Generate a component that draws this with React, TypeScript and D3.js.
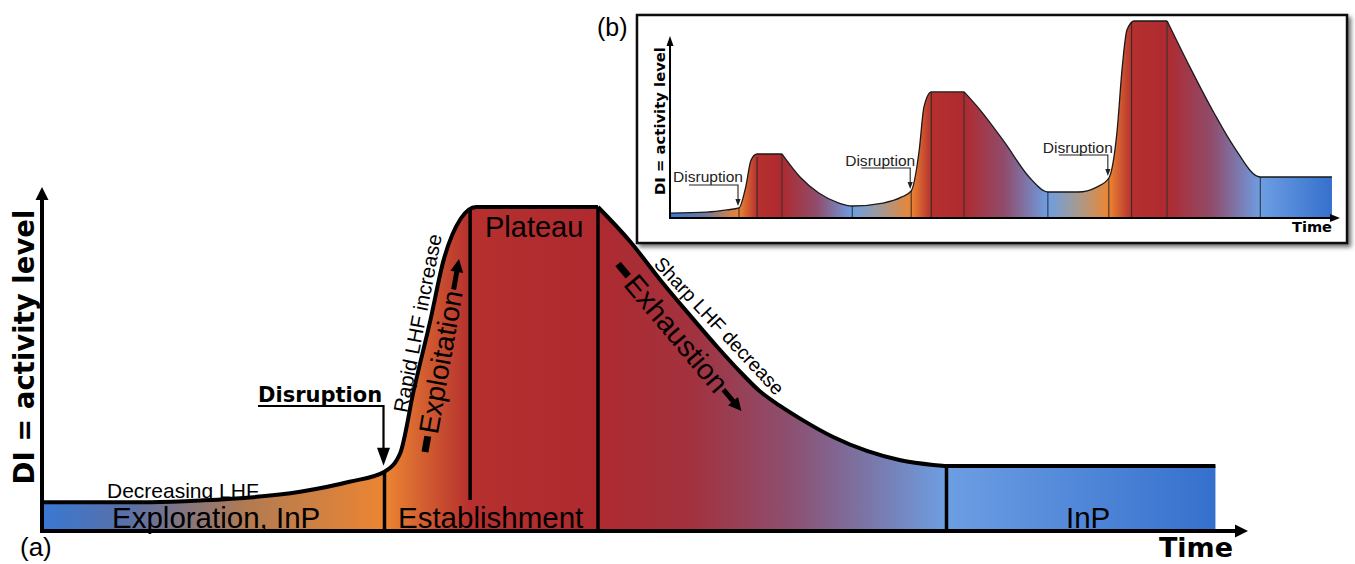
import * as d3 from 'd3'

const W = 1355
const H = 564

// (a) activity curve (time 0-100, activity 0-100)
const riseTime = [0, 9.0, 13.1, 21.4, 25.5, 28.4, 29.7, 30.8, 32.2, 33.3, 34.7, 36.0, 46.1]
const riseLevel = [8.9, 8.9, 9.4, 12.1, 15.2, 18.3, 24.0, 43.0, 65.0, 83.6, 96.3, 100, 100]
const fallTime = [46.1, 48.8, 51.2, 53.7, 56.0, 57.9, 59.5, 61.2, 62.9, 65.6, 68.4, 71.1, 73.9, 75.0, 97.3]
const fallLevel = [100, 89.2, 77.8, 66.7, 56.8, 49.1, 43.2, 38.6, 34.6, 29.0, 24.7, 21.9, 20.4, 20.1, 20.1]

// phase boundaries in (a): time, level where the line starts, level where it stops
const phaseTime = [28.4, 35.5, 46.1, 75.0]
const phaseTop = [18.3, 99.6, 100, 20.1]
const phaseBottom = [0, 9.6, 0, 0]

const phaseNames = ['Exploration, InP', 'Establishment', 'Plateau', 'InP']
const disruptionTime = 28.4
const disruptionLevel = 18.3

// (b) three successive cycles
const insetTime = [0, 5.5, 8.5, 10.3, 11.3, 12.1, 13.0, 16.7, 19.4, 22.2, 25.2, 27.2, 31.8, 34.6, 36.0, 37.2, 37.9, 39.0, 43.9, 46.3, 50.0, 53.6, 56.4, 60.9, 63.7, 65.5, 66.7, 67.5, 68.2, 69.3, 74.2, 77.6, 81.2, 84.2, 88.1, 98.8]
const insetLevel = [2.5, 3.0, 4.1, 5.1, 15.7, 29.4, 32.5, 32.5, 20.8, 12.7, 7.6, 6.1, 7.6, 10.7, 13.7, 34.5, 56.3, 64.0, 64.0, 54.8, 38.1, 20.8, 13.2, 13.2, 15.7, 20.3, 43.1, 76.6, 95.4, 100, 100, 76.6, 53.3, 36.0, 20.8, 20.8]
// plateau ends (sharp corners)
const insetBreaks = [16.7, 43.9, 74.2]
const insetPhaseTime = [10.3, 13.0, 16.7, 27.2, 36.0, 39.0, 43.9, 56.4, 65.5, 68.9, 74.2, 88.1]
const insetPhaseTop = [5.1, 31.0, 32.5, 6.1, 13.7, 63.5, 64.0, 13.2, 20.3, 99.5, 100, 20.8]
const insetDisruptTime = [10.3, 36.0, 65.5]
const insetDisruptLevel = [5.1, 13.7, 20.3]

// colours along time
const mainStops: [number, string][] = [
  [0, '#3a78d3'], [7, '#5970a8'], [17, '#b27b52'], [28.4, '#ec8532'],
  [35.5, '#b5302e'], [46.1, '#ae2a2f'], [54, '#a2323f'], [62, '#8d4f70'],
  [68, '#7b73a3'], [75, '#6d9ee3'], [97.3, '#3570cd'],
]
const insetStops: [number, string][] = [
  [0, '#3a78d3'], [5, '#6b78a0'], [10.3, '#ec8532'], [13, '#b5302e'], [16.7, '#ae2a2f'],
  [22, '#8f4d6d'], [27.2, '#6d9ee3'], [31, '#9c9a9e'], [36, '#ec8532'], [39, '#b5302e'],
  [43.9, '#ae2a2f'], [50, '#8f4d6d'], [56.4, '#6d9ee3'], [61, '#a89a8c'], [65.5, '#ec8532'],
  [68.9, '#b5302e'], [74.2, '#ae2a2f'], [81, '#8f4d6d'], [88.1, '#6d9ee3'], [98.8, '#3570cd'],
]

const SANS = "'Liberation Sans', Arial, sans-serif"
const BOLD = "'DejaVu Sans', Verdana, sans-serif"

// triangle with its tip at (x, y) pointing along angle (degrees)
function head(x: number, y: number, angle: number, len: number, half: number) {
  const a = (angle * Math.PI) / 180
  const bx = x - Math.cos(a) * len
  const by = y - Math.sin(a) * len
  const px = -Math.sin(a) * half
  const py = Math.cos(a) * half
  return `${x},${y} ${bx + px},${by + py} ${bx - px},${by - py}`
}

export default function App() {
  // ---- panel (a)
  const x = d3.scaleLinear().domain([0, 100]).range([42, 1248])
  const y = d3.scaleLinear().domain([0, 100]).range([531, 207])

  const rise = riseTime.map((t, i) => [t, riseLevel[i]] as [number, number])
  const fall = fallTime.map((t, i) => [t, fallLevel[i]] as [number, number])

  const area = d3.area<[number, number]>()
    .x(d => x(d[0])).y0(y(0)).y1(d => y(d[1]))
    .curve(d3.curveMonotoneX)
  const line = d3.line<[number, number]>()
    .x(d => x(d[0])).y(d => y(d[1]))
    .curve(d3.curveMonotoneX)

  // ---- panel (b)
  const xi = d3.scaleLinear().domain([0, 100]).range([670, 1340])
  const yi = d3.scaleLinear().domain([0, 100]).range([218, 21])
  const insetPts = insetTime.map((t, i) => [t, insetLevel[i]] as [number, number])
  const segs: [number, number][][] = []
  let cur: [number, number][] = []
  insetPts.forEach(p => {
    cur.push(p)
    if (insetBreaks.includes(p[0])) { segs.push(cur); cur = [p] }
  })
  segs.push(cur)
  const areaI = d3.area<[number, number]>()
    .x(d => xi(d[0])).y0(yi(0)).y1(d => yi(d[1]))
    .curve(d3.curveMonotoneX)
  const lineI = d3.line<[number, number]>()
    .x(d => xi(d[0])).y(d => yi(d[1]))
    .curve(d3.curveMonotoneX)

  const dx = x(disruptionTime) - 1
  const dTip = y(disruptionLevel) - 6

  return (
    <svg width={W} height={H} style={{ position: 'absolute', left: 0, top: 0, display: 'block', background: '#fff' }}>
      <defs>
        <linearGradient id="gradA" gradientUnits="userSpaceOnUse" x1={x(0)} x2={x(100)} y1={0} y2={0}>
          {mainStops.map(([t, c], i) => <stop key={i} offset={t / 100} stopColor={c} />)}
        </linearGradient>
        <linearGradient id="gradB" gradientUnits="userSpaceOnUse" x1={xi(0)} x2={xi(100)} y1={0} y2={0}>
          {insetStops.map(([t, c], i) => <stop key={i} offset={t / 100} stopColor={c} />)}
        </linearGradient>
        <filter id="shadow" x="-5%" y="-5%" width="110%" height="120%">
          <feDropShadow dx={3} dy={3} stdDeviation={2} floodColor="#000" floodOpacity={0.55} />
        </filter>
      </defs>

      {/* ---------- (a) ---------- */}
      <path d={area(rise) ?? ''} fill="url(#gradA)" />
      <path d={area(fall) ?? ''} fill="url(#gradA)" />

      {phaseTime.map((t, i) => (
        <line key={i} x1={x(t)} x2={x(t)} y1={y(phaseTop[i])} y2={y(phaseBottom[i])}
          stroke="#000" strokeWidth={3.5} />
      ))}

      <path d={line(rise) ?? ''} fill="none" stroke="#000" strokeWidth={4} strokeLinejoin="round" />
      <path d={line(fall) ?? ''} fill="none" stroke="#000" strokeWidth={4} strokeLinejoin="round" />

      {/* axes */}
      <path d={`M${x(0)},${y(100) - 10} L${x(0)},${y(0)} L${x(100) - 11},${y(0)}`}
        fill="none" stroke="#000" strokeWidth={4} strokeLinejoin="miter" />
      <polygon points={head(x(0), y(100) - 20, -90, 13, 6.5)} fill="#000" />
      <polygon points={head(x(100), y(0), 0, 13, 6.5)} fill="#000" />

      <text transform="translate(34,347) rotate(-90)" textAnchor="middle"
        fontFamily={BOLD} fontWeight="bold" fontSize={27.5}>DI = activity level</text>
      <text x={1233} y={557} textAnchor="end" fontFamily={BOLD} fontWeight="bold" fontSize={27}>Time</text>
      <text x={20} y={556} fontFamily={SANS} fontSize={26}>(a)</text>

      {/* phase names */}
      <text x={112} y={528} fontFamily={SANS} fontSize={29.5}>{phaseNames[0]}</text>
      <text x={398} y={528} fontFamily={SANS} fontSize={29.5}>{phaseNames[1]}</text>
      <text x={485} y={237} fontFamily={SANS} fontSize={29}>{phaseNames[2]}</text>
      <text x={1066} y={528} fontFamily={SANS} fontSize={29.5}>{phaseNames[3]}</text>
      <text x={107} y={498} fontFamily={SANS} fontSize={21}>Decreasing LHF</text>

      {/* disruption marker */}
      <text x={258} y={402} fontFamily={BOLD} fontWeight="bold" fontSize={21}>Disruption</text>
      <polyline points={`258,406 ${dx},406 ${dx},${dTip - 14}`} fill="none" stroke="#000" strokeWidth={2.2} />
      <polygon points={head(dx, dTip, 90, 18, 6.5)} fill="#000" />

      {/* rotated annotations */}
      <text transform="translate(400,412) rotate(-79)" fontFamily={SANS} fontSize={20.5}
        dominantBaseline="central">Rapid LHF increase</text>
      <g transform="translate(425,452) rotate(-80)">
        <rect x={0} y={-3.5} width={16} height={7} fill="#000" />
        <text x={19} y={0} fontFamily={SANS} fontSize={28} dominantBaseline="central">Exploitation</text>
        <line x1={165} x2={185} y1={0} y2={0} stroke="#000" strokeWidth={5} />
        <polygon points={head(196, 0, 0, 13, 6.5)} fill="#000" />
      </g>
      <g transform="translate(618,264) rotate(50)">
        <rect x={0} y={-3.5} width={16} height={7} fill="#000" />
        <text x={19} y={0} fontFamily={SANS} fontSize={29} dominantBaseline="central">Exhaustion</text>
        <line x1={164} x2={180} y1={0} y2={0} stroke="#000" strokeWidth={5} />
        <polygon points={head(192, 0, 0, 13, 6.5)} fill="#000" />
      </g>
      <text transform="translate(658,260) rotate(47)" fontFamily={SANS} fontSize={19.5}
        dominantBaseline="central">Sharp LHF decrease</text>

      {/* ---------- (b) ---------- */}
      <text x={597} y={36} fontFamily={SANS} fontSize={25}>(b)</text>
      <rect x={637} y={15} width={710} height={228} fill="#fff" stroke="#111" strokeWidth={2.5}
        filter="url(#shadow)" />

      {segs.map((s, i) => <path key={i} d={areaI(s) ?? ''} fill="url(#gradB)" />)}
      {insetPhaseTime.map((t, i) => (
        <line key={i} x1={xi(t)} x2={xi(t)} y1={yi(insetPhaseTop[i])} y2={yi(0)}
          stroke="#2a2a2a" strokeWidth={1} />
      ))}
      {segs.map((s, i) => (
        <path key={i} d={lineI(s) ?? ''} fill="none" stroke="#1a1a1a" strokeWidth={1.3} strokeLinejoin="round" />
      ))}

      <path d={`M${xi(0)},${yi(100) + 24} L${xi(0)},${yi(0)} L${xi(100) - 8},${yi(0)}`}
        fill="none" stroke="#000" strokeWidth={2} />
      <polygon points={head(xi(0), yi(100) + 15, -90, 10, 3.5)} fill="#000" />
      <polygon points={head(xi(100), yi(0), 0, 10, 4)} fill="#000" />

      <text transform="translate(665,121) rotate(-90)" textAnchor="middle"
        fontFamily={BOLD} fontWeight="bold" fontSize={14.8}>DI = activity level</text>
      <text x={1332} y={232} textAnchor="end" fontFamily={BOLD} fontWeight="bold" fontSize={14.6}>Time</text>

      {insetDisruptTime.map((t, i) => {
        const tx = xi(t) - 1
        const ty = yi(insetDisruptLevel[i]) - 2
        const uy = ty - 21
        return (
          <g key={i}>
            <text x={tx + 5} y={uy - 2.5} textAnchor="end" fontFamily={SANS} fontSize={14}
              textLength={70} lengthAdjust="spacingAndGlyphs" fill="#222">Disruption</text>
            <polyline points={`${tx - 49},${uy} ${tx},${uy} ${tx},${ty - 6}`} fill="none"
              stroke="#222" strokeWidth={1.1} />
            <polygon points={head(tx, ty, 90, 7, 2.6)} fill="#222" />
          </g>
        )
      })}
    </svg>
  )
}
